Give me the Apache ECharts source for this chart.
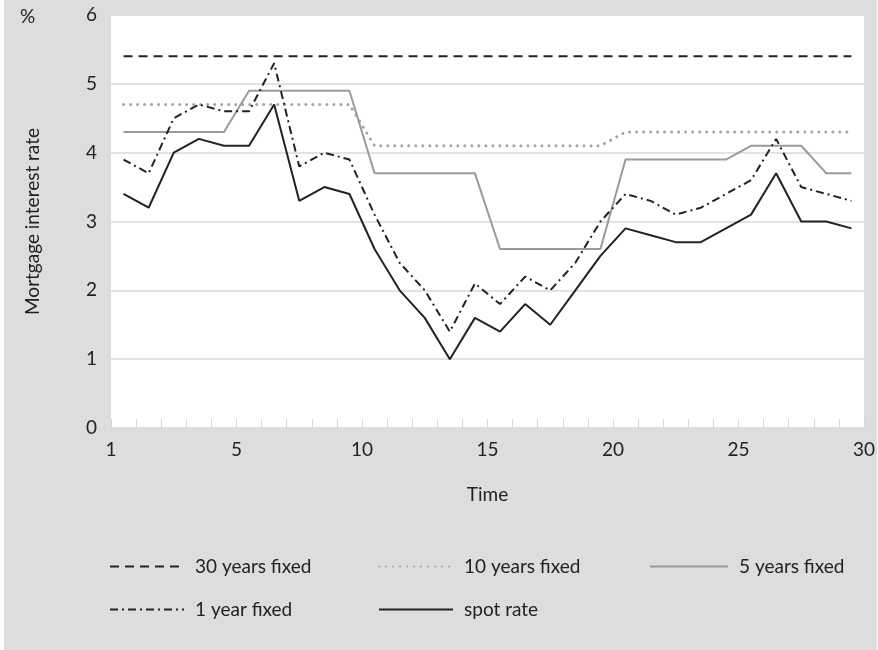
<!DOCTYPE html>
<html>
<head>
<meta charset="utf-8">
<script src="https://cdn.jsdelivr.net/npm/echarts@6/dist/echarts.min.js"></script>
<style>
  html, body { margin: 0; padding: 0; background: #ffffff; }
  #chart { width: 878px; height: 650px; }
</style>
</head>
<body>
<div id="chart"></div>
<script>
// Periods along the time axis
const periods = [1,2,3,4,5,6,7,8,9,10,11,12,13,14,15,16,17,18,19,20,21,22,23,24,25,26,27,28,29,30];

// Mortgage interest rates (%) per period
const fixed30 = [5.4,5.4,5.4,5.4,5.4,5.4,5.4,5.4,5.4,5.4,5.4,5.4,5.4,5.4,5.4,5.4,5.4,5.4,5.4,5.4,5.4,5.4,5.4,5.4,5.4,5.4,5.4,5.4,5.4,5.4];
const fixed10 = [4.7,4.7,4.7,4.7,4.7,4.7,4.7,4.7,4.7,4.7,4.1,4.1,4.1,4.1,4.1,4.1,4.1,4.1,4.1,4.1,4.3,4.3,4.3,4.3,4.3,4.3,4.3,4.3,4.3,4.3];
const fixed5  = [4.3,4.3,4.3,4.3,4.3,4.9,4.9,4.9,4.9,4.9,3.7,3.7,3.7,3.7,3.7,2.6,2.6,2.6,2.6,2.6,3.9,3.9,3.9,3.9,3.9,4.1,4.1,4.1,3.7,3.7];
const fixed1  = [3.9,3.7,4.5,4.7,4.6,4.6,5.3,3.8,4.0,3.9,3.1,2.4,2.0,1.4,2.1,1.8,2.2,2.0,2.4,3.0,3.4,3.3,3.1,3.2,3.4,3.6,4.2,3.5,3.4,3.3];
const spot    = [3.4,3.2,4.0,4.2,4.1,4.1,4.7,3.3,3.5,3.4,2.6,2.0,1.6,1.0,1.6,1.4,1.8,1.5,2.0,2.5,2.9,2.8,2.7,2.7,2.9,3.1,3.7,3.0,3.0,2.9];

const seriesNames = ['30 years fixed', '10 years fixed', '5 years fixed', '1 year fixed', 'spot rate'];
const xTickLabels = ['1', '5', '10', '15', '20', '25', '30'];
const yTickLabels = ['0', '1', '2', '3', '4', '5', '6'];

const FONT = 'Lato';
const FONT_SIZE = 19;
const INK = '#222222';

// The time axis runs over period boundaries 0..30; each period sits in the middle of its slot.
function pairs(values) {
  return periods.map((p, i) => [p - 0.5, values[i]]);
}

const chart = echarts.init(document.getElementById('chart'), null, { renderer: 'canvas' });

// One legend block per entry so each can sit in its own column
function legendAt(name, left, top, itemWidth) {
  return {
    data: [name],
    left: left,
    top: top,
    orient: 'horizontal',
    itemWidth: itemWidth,
    itemHeight: 14,
    padding: 0,
    selectedMode: false,
    itemStyle: { opacity: 0, borderWidth: 0 },
    textStyle: { fontFamily: FONT, fontSize: FONT_SIZE, color: INK, padding: [0, 0, 0, 6] }
  };
}

const option = {
  backgroundColor: '#ffffff',
  animation: false,
  textStyle: { fontFamily: FONT },
  graphic: [
    { type: 'rect', z: -10, silent: true, shape: { x: 4, y: 0, width: 873, height: 650 }, style: { fill: '#dcdddf' } },
    { type: 'text', left: 20, top: 7, style: { text: '%', font: FONT_SIZE + 'px ' + FONT, fill: INK } }
  ],
  grid: {
    left: 111, right: 4, top: 15, bottom: 222,
    show: true, backgroundColor: '#ffffff', borderWidth: 0
  },
  legend: [
    legendAt(seriesNames[0], 109, 557, 74),
    legendAt(seriesNames[1], 378, 557, 74),
    legendAt(seriesNames[2], 649, 557, 78),
    legendAt(seriesNames[3], 109, 600, 74),
    legendAt(seriesNames[4], 378, 600, 74)
  ],
  xAxis: {
    type: 'value',
    min: 0, max: 30, interval: 5,
    name: 'Time',
    nameLocation: 'middle',
    nameGap: 57,
    nameTextStyle: { fontFamily: FONT, fontSize: FONT_SIZE, color: INK },
    axisLine: { show: false },
    axisTick: { show: true, inside: true, length: 9, lineStyle: { color: '#d6d6d6', width: 1 } },
    minorTick: { show: true, splitNumber: 5, length: 9, lineStyle: { color: '#d6d6d6', width: 1 } },
    splitLine: { show: false },
    axisLabel: {
      margin: 12,
      fontFamily: FONT, fontSize: FONT_SIZE, color: INK,
      formatter: v => xTickLabels[Math.round(v / 5)]
    }
  },
  yAxis: {
    type: 'value',
    min: 0, max: 6, interval: 1,
    name: 'Mortgage interest rate',
    nameLocation: 'middle',
    nameGap: 69,
    nameRotate: 90,
    nameTextStyle: { fontFamily: FONT, fontSize: FONT_SIZE, color: INK },
    axisLine: { show: false },
    axisTick: { show: false },
    splitLine: { show: true, lineStyle: { color: '#d9d9d9', width: 1.5 } },
    axisLabel: {
      margin: 14,
      fontFamily: FONT, fontSize: FONT_SIZE, color: INK,
      formatter: v => yTickLabels[Math.round(v)]
    }
  },
  series: [
    {
      name: seriesNames[0], type: 'line', data: pairs(fixed30),
      showSymbol: false, symbol: 'none',
      lineStyle: { color: '#222222', width: 2, type: [9, 6] },
      itemStyle: { color: '#222222' }
    },
    {
      name: seriesNames[1], type: 'line', data: pairs(fixed10),
      showSymbol: false, symbol: 'none',
      lineStyle: { color: '#a3a3a3', width: 3, type: [0.01, 7], cap: 'round' },
      itemStyle: { color: '#a3a3a3' }
    },
    {
      name: seriesNames[2], type: 'line', data: pairs(fixed5),
      showSymbol: false, symbol: 'none',
      lineStyle: { color: '#9a9a9a', width: 2 },
      itemStyle: { color: '#9a9a9a' }
    },
    {
      name: seriesNames[3], type: 'line', data: pairs(fixed1),
      showSymbol: false, symbol: 'none',
      lineStyle: { color: '#222222', width: 2, type: [8, 4, 2, 4] },
      itemStyle: { color: '#222222' }
    },
    {
      name: seriesNames[4], type: 'line', data: pairs(spot),
      showSymbol: false, symbol: 'none',
      lineStyle: { color: '#222222', width: 2 },
      itemStyle: { color: '#222222' }
    }
  ]
};

chart.setOption(option);
</script>
</body>
</html>
